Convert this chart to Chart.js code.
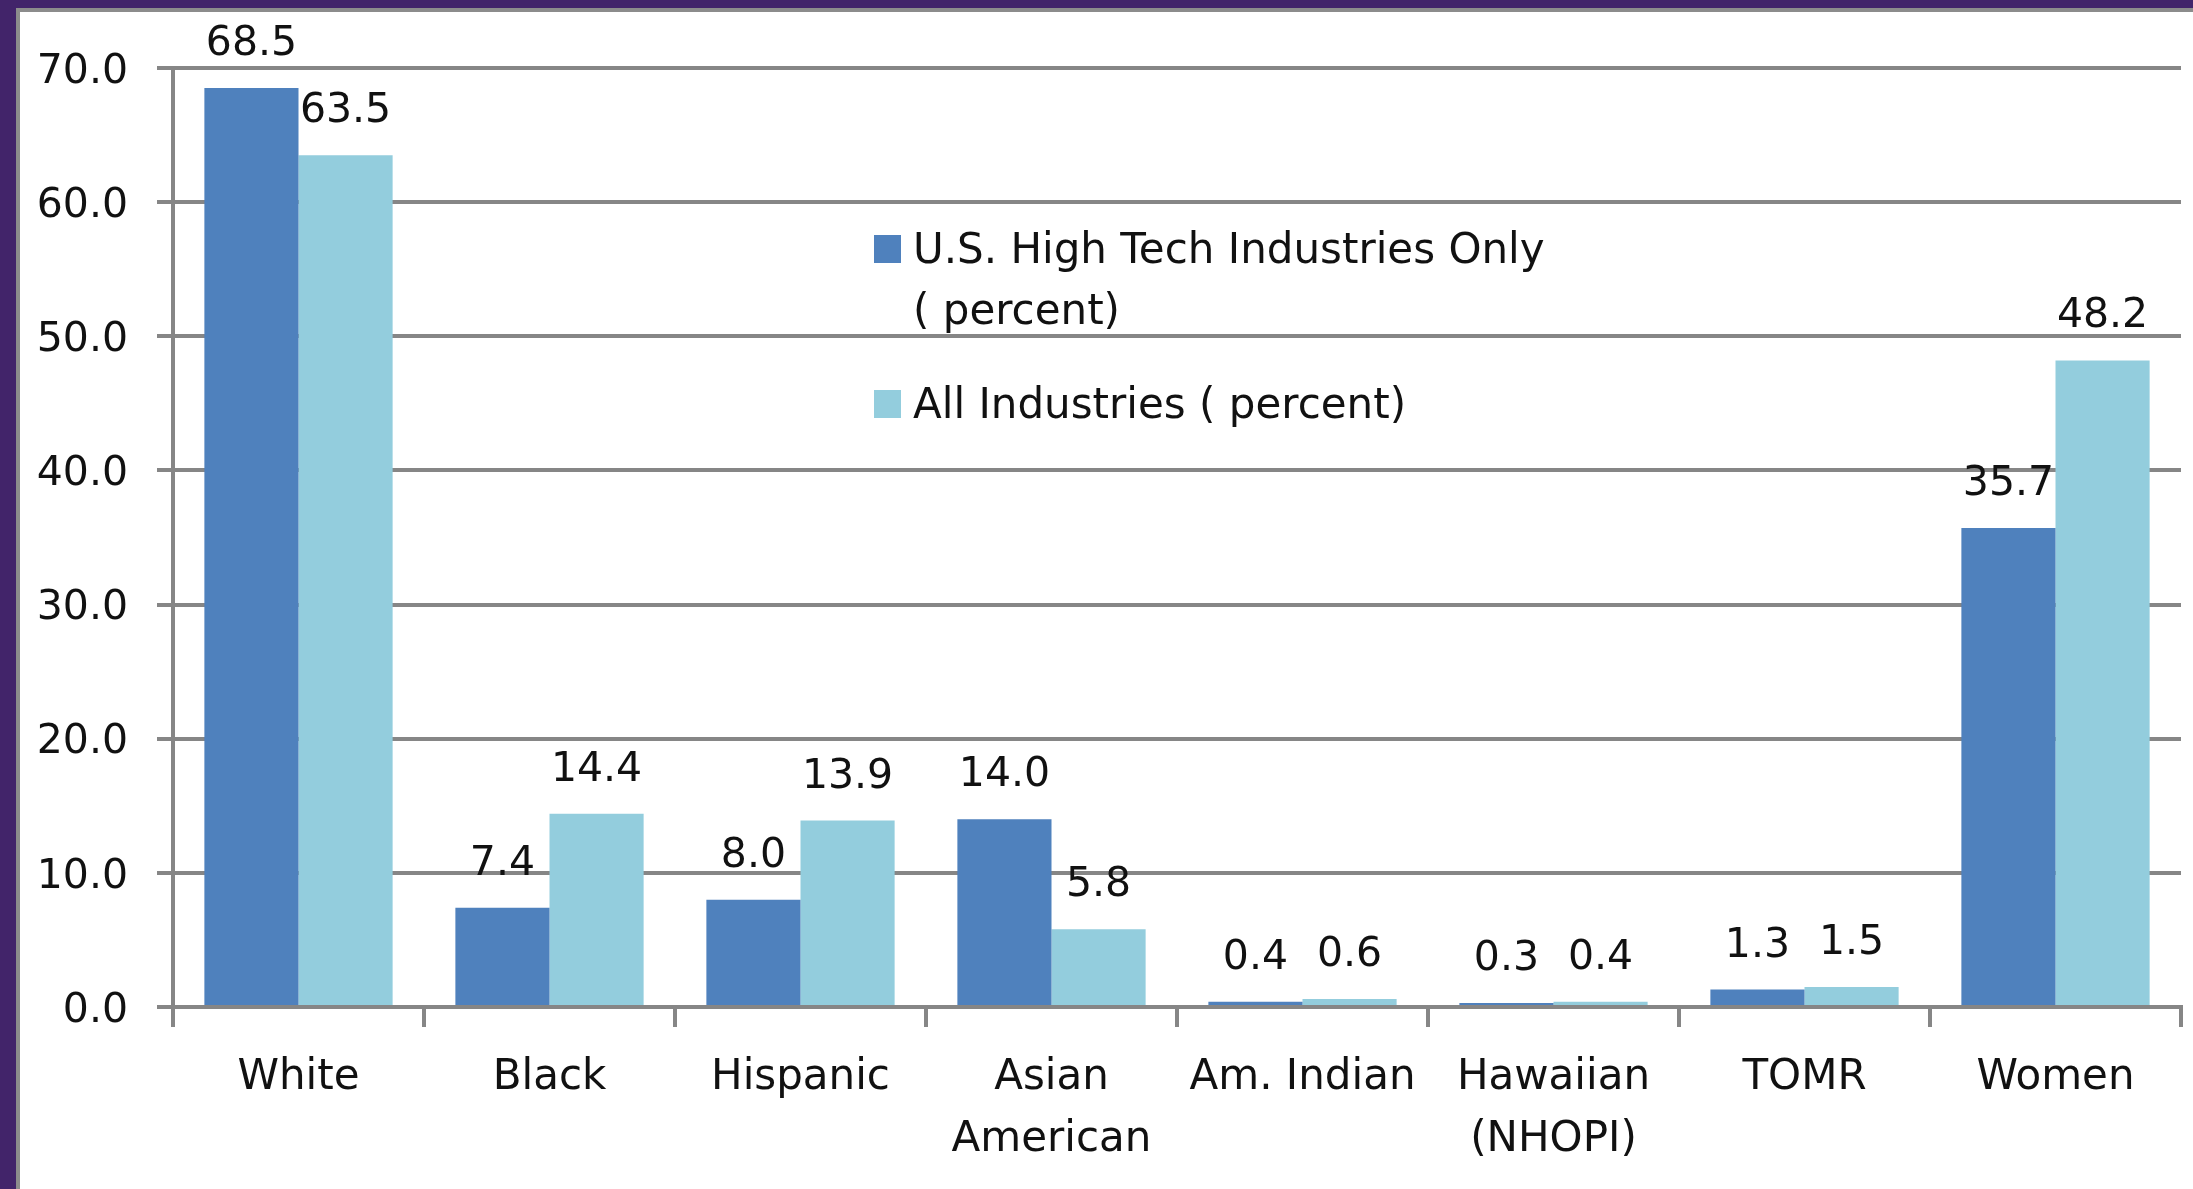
<!DOCTYPE html>
<html>
<head>
<meta charset="utf-8">
<script src="https://cdn.jsdelivr.net/npm/chart.js@4.4.1/dist/chart.umd.min.js"></script>
<style>
    html, body { margin: 0; padding: 0; }
    body { width: 2193px; height: 1189px; background: #42246a; overflow: hidden; position: relative; }
    .frame { position: absolute; left: 16px; top: 8px; right: 0; bottom: 0; background: #fff; border-left: 4px solid #8c8c8c; border-top: 4px solid #8c8c8c; }
    #chart { position: absolute; left: 0; top: 0; }
</style>
</head>
<body>
<div class="frame"></div>
<canvas id="chart" width="2193" height="1189"></canvas>
<script>
// Chart data
const categories = ['White', 'Black', 'Hispanic', ['Asian', 'American'], 'Am. Indian', ['Hawaiian', '(NHOPI)'], 'TOMR', 'Women'];
const highTech = [68.5, 7.4, 8.0, 14.0, 0.4, 0.3, 1.3, 35.7];
const allIndustries = [63.5, 14.4, 13.9, 5.8, 0.6, 0.4, 1.5, 48.2];
const seriesNames = [['U.S. High Tech Industries Only', '( percent)'], ['All Industries ( percent)']];
const yTicks = [0, 10, 20, 30, 40, 50, 60, 70];

const colors = ['#4f81bd', '#93cddd'];
const font = 'DejaVu Sans';
const gridGray = '#868686';

// values above each bar
const valueLabels = {
    id: 'valueLabels',
    afterDatasetsDraw(chart) {
        const ctx = chart.ctx;
        ctx.save();
        ctx.font = '41px "' + font + '"';
        ctx.fillStyle = '#111';
        ctx.textAlign = 'center';
        ctx.textBaseline = 'alphabetic';
        chart.data.datasets.forEach((ds, i) => {
            chart.getDatasetMeta(i).data.forEach((bar, j) => {
                ctx.fillText(ds.data[j].toFixed(1), bar.x, bar.y - 33);
            });
        });
        ctx.restore();
    }
};

// legend sits inside the plot
const innerLegend = {
    id: 'innerLegend',
    afterDraw(chart) {
        const ctx = chart.ctx;
        const x = 874, textX = 913;
        const rows = [252, 407];
        ctx.save();
        ctx.font = '42px "' + font + '"';
        ctx.textAlign = 'left';
        ctx.textBaseline = 'middle';
        seriesNames.forEach((lines, i) => {
            ctx.fillStyle = colors[i];
            ctx.fillRect(x, rows[i] - 17, 27, 28);
            ctx.fillStyle = '#111';
            lines.forEach((t, k) => ctx.fillText(t, textX, rows[i] + k * 61));
        });
        ctx.restore();
    }
};

new Chart(document.getElementById('chart'), {
    type: 'bar',
    data: {
        labels: categories,
        datasets: [
            { label: seriesNames[0].join(' '), data: highTech, backgroundColor: colors[0] },
            { label: seriesNames[1].join(' '), data: allIndustries, backgroundColor: colors[1] }
        ]
    },
    options: {
        responsive: false,
        animation: false,
        devicePixelRatio: 1,
        layout: { padding: { top: 68, right: 12, left: 0, bottom: 0 } },
        datasets: { bar: { categoryPercentage: 0.75, barPercentage: 1.0 } },
        plugins: { legend: { display: false }, tooltip: { enabled: false } },
        scales: {
            x: {
                afterFit(scale) { scale.height = 182; },
                grid: { offset: true, drawOnChartArea: false, drawTicks: true, tickLength: 20, color: gridGray, lineWidth: 4 },
                border: { color: gridGray, width: 4 },
                ticks: { color: '#111', padding: 20, font: { family: font, size: 42, lineHeight: 1.47 }, maxRotation: 0, autoSkip: false }
            },
            y: {
                min: 0,
                max: 70,
                afterFit(scale) { scale.width = 173; },
                afterBuildTicks(scale) { scale.ticks = yTicks.map(v => ({ value: v })); },
                grid: { color: gridGray, lineWidth: 4, tickLength: 16 },
                border: { color: gridGray, width: 4 },
                ticks: { color: '#111', padding: 29, labelOffset: 4, font: { family: font, size: 41 }, callback: v => v.toFixed(1) }
            }
        }
    },
    plugins: [valueLabels, innerLegend]
});
</script>
</body>
</html>
